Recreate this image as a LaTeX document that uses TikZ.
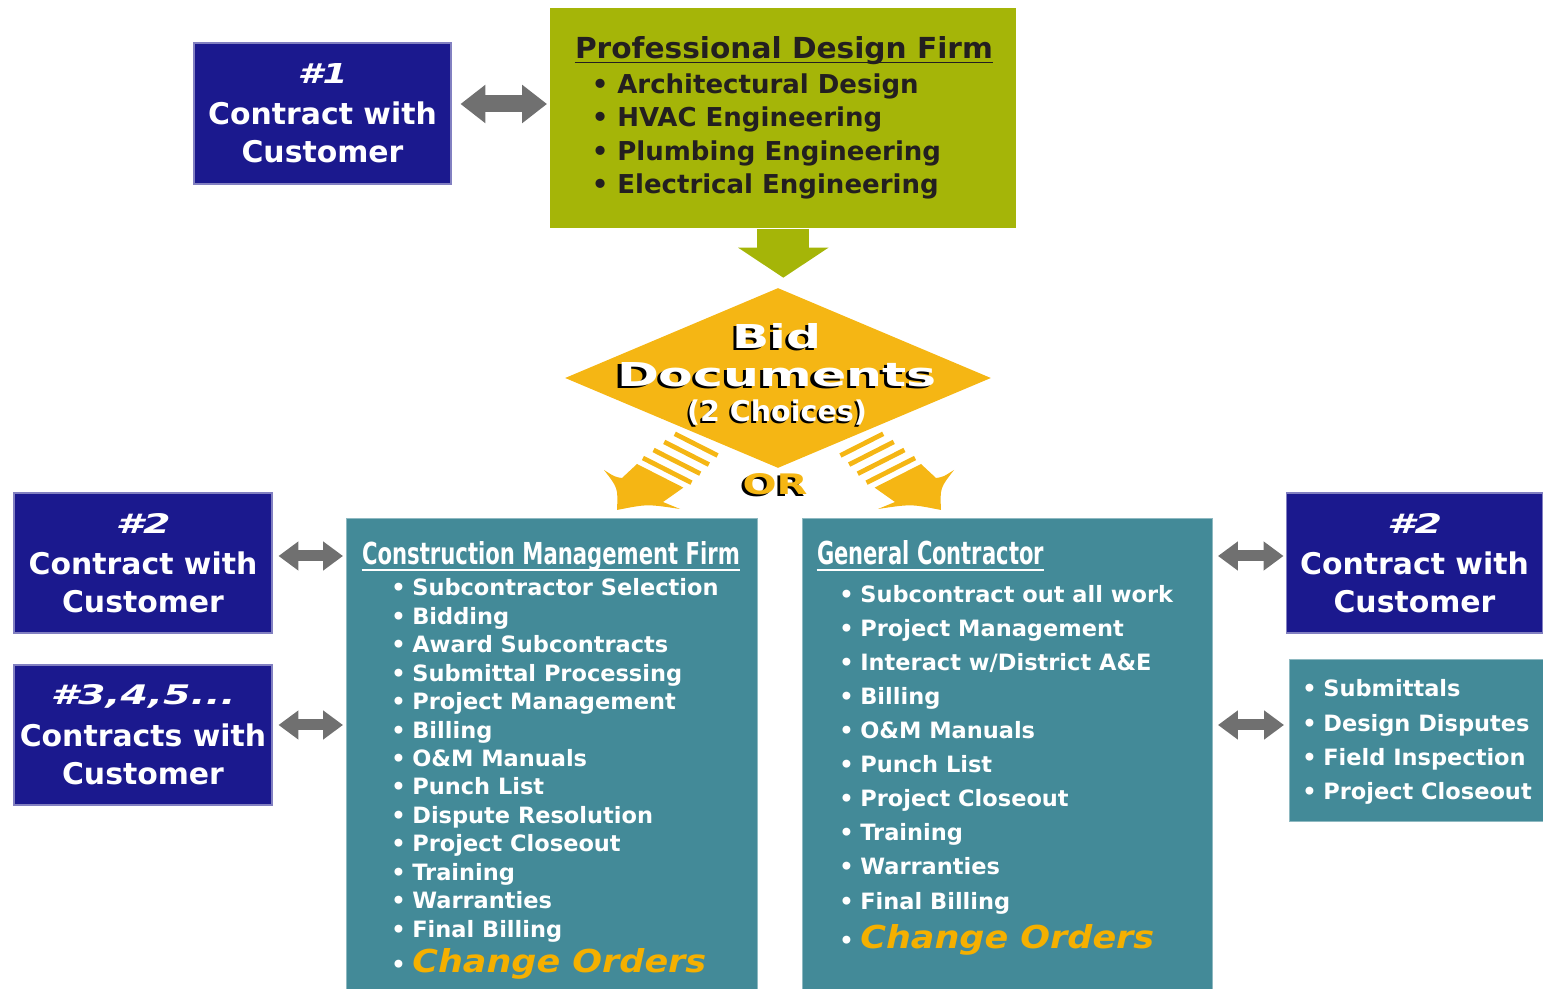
\documentclass[tikz,border=0pt]{standalone}
\usepackage{graphicx}
\usepackage{fontspec}
\setmainfont{DejaVu Sans}
\usetikzlibrary{shapes}
\usetikzlibrary{shapes.geometric}
\usetikzlibrary{positioning}
\usetikzlibrary{arrows.meta}
\definecolor{navyc}{RGB}{27,25,142}
\definecolor{olivec}{RGB}{165,181,8}
\definecolor{tealc}{RGB}{67,138,152}
\definecolor{bidc}{RGB}{245,182,20}
\definecolor{coc}{RGB}{245,176,0}
\definecolor{grayc}{RGB}{112,112,112}
\definecolor{inkc}{RGB}{35,31,32}
\newcommand{\itm}[1]{\llap{\makebox[#1][l]{•}}}
\newcommand{\shd}[1]{\makebox[0pt][l]{\kern-0.07em\raisebox{-0.07em}[0pt][0pt]{\color{black}#1}}#1}
\tikzset{
    navybox/.style = {rectangle, fill=navyc, draw=navyc!55!white, line width=0.6pt, text=white, align=center, inner sep=0pt, minimum width=5.16cm, minimum height=2.8cm, font=\fontsize{17}{21.6}\selectfont\bfseries},
    tealbox/.style = {rectangle, fill=tealc, draw=tealc!60!white, line width=0.6pt, anchor=north west, inner sep=0pt},
    greenbox/.style = {rectangle, fill=olivec, anchor=north west, inner sep=0pt},
    listitem/.style = {anchor=base west, inner sep=0pt, text=white, font=\fontsize{12.8}{15}\selectfont\bfseries},
    listk/.style = {listitem, text=inkc, font=\fontsize{14.8}{18}\selectfont\bfseries},
    ttl/.style = {anchor=base, inner sep=0pt, text=white, font=\bfseries},
    uline/.style = {line width=1.1pt, white},
    garrow/.style = {grayc, line width=0.34cm, {Triangle[length=0.5cm,width=0.74cm]}-{Triangle[length=0.5cm,width=0.74cm]}},
    garrows/.style = {grayc, line width=0.22cm, {Triangle[length=0.4cm,width=0.56cm]}-{Triangle[length=0.4cm,width=0.56cm]}},
    downarrow/.style = {olivec, line width=1.04cm, -{Triangle[length=0.6cm,width=1.78cm]}},
    stripe/.style = {bidc, line width=0.095cm},
    stripearrow/.pic = {
      \fill[bidc] (20,-46) -- (66.4,-22.4) -- (46,-8) .. controls (54,-4) .. (63,-1)
        .. controls (30,-6) .. (0,0) .. controls (1,-22) .. (-13,-40)
        .. controls (-2,-33) .. (5,-32) -- cycle;
      \draw[stripe] (25.9,-52.0) -- (74.5,-27.3);
      \draw[stripe] (36.6,-60.0) -- (83.2,-36.3);
      \draw[stripe] (47.2,-68.1) -- (91.9,-45.4);
      \draw[stripe] (57.8,-76.2) -- (100.6,-54.5);
    }
}

\begin{document}
\begin{tikzpicture}[x=0.02cm, y=-0.02cm]
  \useasboundingbox (0,0) rectangle (1543,989);

  % boxes
  \node[greenbox, minimum width=9.32cm, minimum height=4.4cm] (pdf) at (550,8) {};
  \node[diamond, fill=bidc, minimum width=8.52cm, minimum height=3.6cm, inner sep=0pt] (bid) at (778,378) {};
  \node[tealbox, minimum width=8.22cm, minimum height=9.6cm] (cm) at (346,518) {};
  \node[tealbox, minimum width=8.2cm, minimum height=9.6cm] (gc) at (802,518) {};
  \node[tealbox, minimum width=5.14cm, minimum height=3.24cm] (rt) at (1289,659) {};

  \node[navybox, minimum width=5.14cm, minimum height=2.82cm] (c1) at (322.5,113.5)
    {\resizebox{1.0cm}{0.4cm}{\itshape\#1}\\[1.7pt] Contract with\\ Customer};
  \node[navybox] (c2l) at (143,563)
    {\resizebox{1.1cm}{0.4cm}{\itshape\#2}\\[1.7pt] Contract with\\ Customer};
  \node[navybox] (c3) at (143,735)
    {\resizebox{3.7cm}{0.4cm}{\itshape\#3,4,5...}\\[2.2pt] Contracts with\\ Customer};
  \node[navybox, minimum width=5.14cm] (c2r) at (1414.5,563)
    {\resizebox{1.1cm}{0.4cm}{\itshape\#2}\\[1.7pt] Contract with\\ Customer};

  % connectors
  \draw[garrow, shorten <=0.18cm, shorten >=0.06cm] (c1.east |- 0,104) -- (pdf.west |- 0,104);
  \draw[garrows, shorten <=0.12cm, shorten >=0.06cm] (c2l.east |- 0,556) -- (cm.west |- 0,556);
  \draw[garrows, shorten <=0.12cm, shorten >=0.06cm] (c3.east |- 0,725) -- (cm.west |- 0,725);
  \draw[garrows, shorten <=0.1cm, shorten >=0.04cm] (gc.east |- 0,556) -- (c2r.west |- 0,556);
  \draw[garrows, shorten <=0.1cm, shorten >=0.1cm] (gc.east |- 0,725) -- (rt.west |- 0,725);
  \draw[downarrow, shorten >=0.2cm] (pdf.south) -- (pdf.south |- bid.north);
  \pic at (617,510) {stripearrow};
  \pic[xscale=-1] at (941,510) {stripearrow};

  % diamond text
  \node[ttl, anchor=north, align=center, font=\fontsize{10}{21.6}\selectfont\bfseries] (bidt) at (777,323)
    {\resizebox{1.78cm}{0.5cm}{\shd{Bid}}\\
     \resizebox{6.4cm}{0.48cm}{\shd{Documents}}\\[-1.7pt]
     \resizebox{3.6cm}{!}{\shd{(2 Choices)}}};
  \node[ttl, text=bidc] (ortxt) at (775,495) {\resizebox{1.3cm}{0.42cm}{\shd{OR}}};

  % titles
  \node[ttl, text=inkc] (pdft) at (784,59) {\resizebox{8.36cm}{0.44cm}{Professional Design Firm}};
  \draw[uline, inkc] ([yshift=-2pt]pdft.base west) -- ([yshift=-2pt]pdft.base east);
  \node[ttl] (cmt) at (551,565) {\resizebox{7.56cm}{0.46cm}{Construction Management Firm}};
  \draw[uline] ([yshift=-2.6pt]cmt.base west) -- ([yshift=-2.6pt]cmt.base east);
  \node[ttl] (gct) at (930.5,565) {\resizebox{4.54cm}{0.48cm}{General Contractor}};
  \draw[uline] ([yshift=-2.6pt]gct.base west) -- ([yshift=-2.6pt]gct.base east);

  % lists
  \foreach \txt [count=\i] in {Architectural Design, HVAC Engineering, Plumbing Engineering, Electrical Engineering}
    \node[listk] (pdf\i) at (617,{93.5+33.4*(\i-1)}) {\itm{0.51cm}\txt};
  \foreach \txt [count=\i] in {Subcontractor Selection, Bidding, Award Subcontracts, Submittal Processing,
      Project Management, Billing, O\&M Manuals, Punch List, Dispute Resolution, Project Closeout,
      Training, Warranties, Final Billing}
    \node[listitem] (cm\i) at (412,{596+28.42*(\i-1)}) {\itm{0.42cm}\txt};
  \node[listitem] (cmco) at (412,972) {\itm{0.42cm}\textcolor{coc}{\resizebox{5.88cm}{0.48cm}{\itshape Change Orders}}};
  \foreach \txt [count=\i] in {Subcontract out all work, Project Management, Interact w/District A\&E, Billing,
      O\&M Manuals, Punch List, Project Closeout, Training, Warranties, Final Billing}
    \node[listitem] (gc\i) at (860,{603+34*(\i-1)}) {\itm{0.42cm}\txt};
  \node[listitem] (gcco) at (860,948.5) {\itm{0.42cm}\textcolor{coc}{\resizebox{5.88cm}{0.48cm}{\itshape Change Orders}}};
  \foreach \txt [count=\i] in {Submittals, Design Disputes, Field Inspection, Project Closeout}
    \node[listitem] (rt\i) at (1323,{697+34.3*(\i-1)}) {\itm{0.42cm}\txt};
\end{tikzpicture}
\end{document}
